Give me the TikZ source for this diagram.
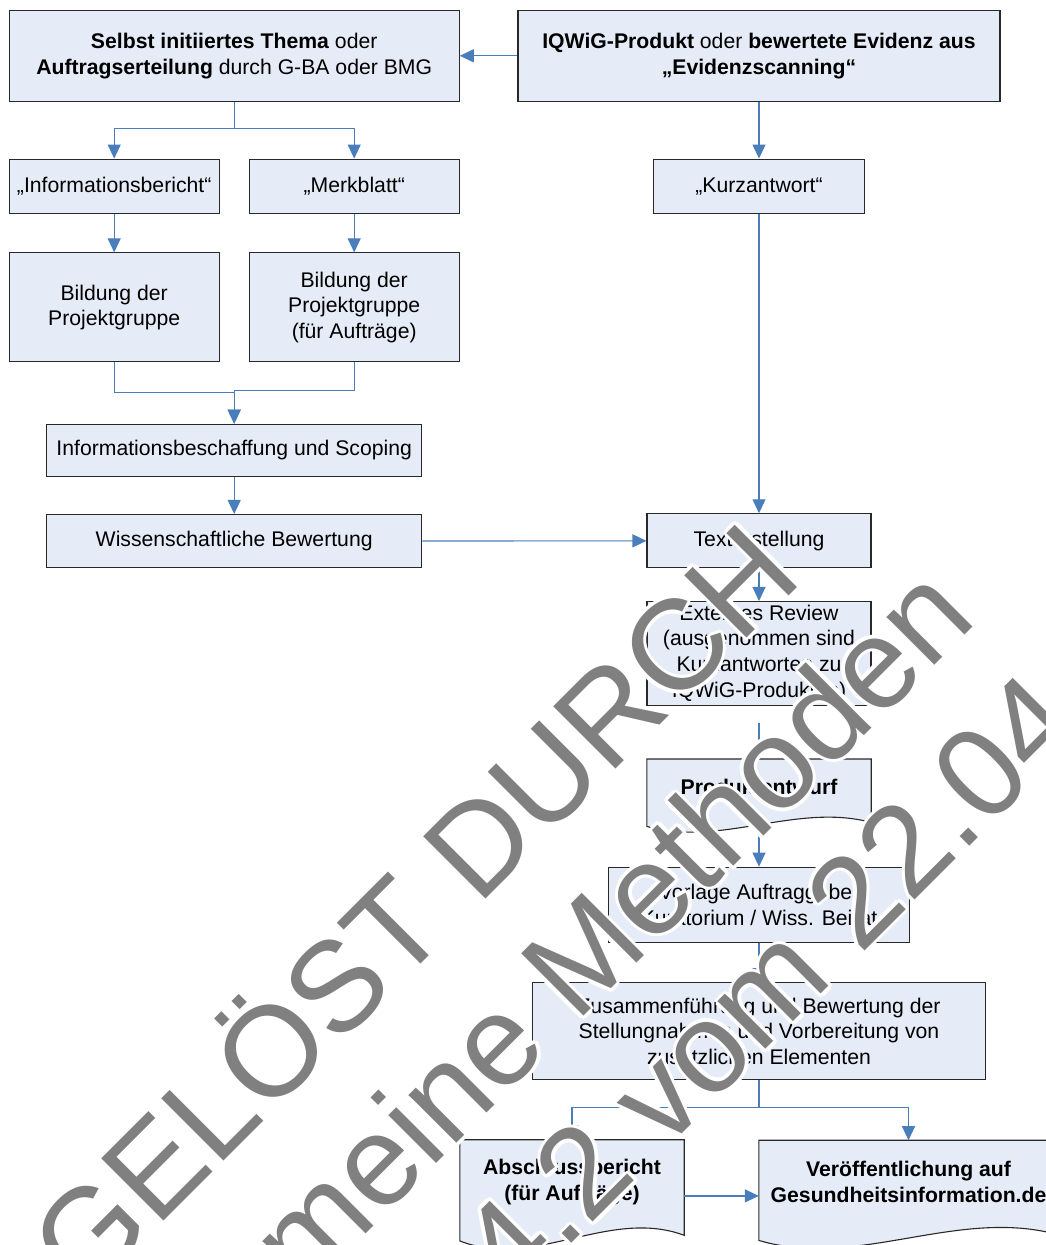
\documentclass[tikz,border=0pt]{standalone}
\usepackage{fontspec}
\setmainfont{Liberation Sans}
\usepackage{tikz}
\usetikzlibrary{positioning}
\usetikzlibrary{arrows.meta,calc,backgrounds}
\definecolor{boxfill}{RGB}{230,236,247}
\definecolor{boxline}{RGB}{40,40,40}
\definecolor{flowblue}{RGB}{74,126,187}
\definecolor{wmgray}{RGB}{128,128,128}
\tikzstyle{box} = [rectangle, draw=boxline, fill=boxfill, line width=1.1pt, text centered, align=center, font=\fontsize{21.2}{25.7}\selectfont]
\tikzstyle{docbox} = [rectangle, draw=none, fill=none, text centered, align=center, font=\fontsize{21.2}{25.7}\selectfont\bfseries]
\tikzstyle{flow} = [draw=flowblue, line width=1.2pt, -{Triangle[length=14pt,width=13pt]}]
\tikzstyle{wmark} = [anchor=base west, inner sep=0pt, rotate=45, text=wmgray, font=\fontsize{128}{150}\selectfont]
% document shape with wavy lower edge
\newcommand{\drawdoc}[2]{%
  \draw [draw=boxline, fill=boxfill, line width=1.1pt]
    (#1.north west) -- (#1.north east) -- ([yshift={-8*#2}]#1.south east)
    .. controls ($(#1.south east)!0.335!(#1.south west)+(0,{12*#2})$)
       and ($(#1.south east)!0.67!(#1.south west)+(0,{-33*#2})$)
    .. ([yshift={-12*#2}]#1.south west) -- cycle;}

\begin{document}
\begin{tikzpicture}[x=1pt, y=1pt]
	\useasboundingbox (0,0) rectangle (1046,-1245);
	\clip (0,0) rectangle (1046,-1245);
	% start nodes
	\node [box, minimum width=450pt, minimum height=91pt] (start) at (234.2,-55.8)
		{\textbf{Selbst initiiertes Thema} oder\\ \textbf{Auftragserteilung} durch G-BA oder BMG};
	\node [box, right of=start, node distance=524.8pt, minimum width=482pt, minimum height=91pt] (product)
		{\textbf{IQWiG-Produkt} oder \textbf{bewertete Evidenz aus}\\ \textbf{„Evidenzscanning“}};
	% left branch
	\node [box, below of=start, node distance=130.3pt, xshift=-120pt, minimum width=210pt, minimum height=54pt] (infobericht) {„Informationsbericht“};
	\node [box, right of=infobericht, node distance=240pt, minimum width=210pt, minimum height=54pt] (merkblatt) {„Merkblatt“};
	\node [box, below of=infobericht, node distance=121.3pt, minimum width=210pt, minimum height=109pt] (gruppeA) {Bildung der\\ Projektgruppe};
	\node [box, below of=merkblatt, node distance=121.3pt, minimum width=210pt, minimum height=109pt] (gruppeB) {Bildung der\\ Projektgruppe\\ (für Aufträge)};
	\node [box, below of=start, node distance=394.4pt, minimum width=375pt, minimum height=52pt] (scoping) {Informationsbeschaffung und Scoping};
	\node [box, below of=scoping, node distance=90.8pt, minimum width=375pt, minimum height=53pt] (bewertung) {Wissenschaftliche Bewertung};
	% right branch
	\node [box, below of=product, node distance=130.3pt, minimum width=211pt, minimum height=54pt] (kurz) {„Kurzantwort“};
	\node [box, below of=kurz, node distance=354.7pt, minimum width=224pt, minimum height=54pt] (texterst) {Texterstellung};
	\node [box, below of=texterst, node distance=112.5pt, minimum width=224pt, minimum height=103pt] (review)
		{Externes Review\\ (ausgenommen sind\\ Kurzantworten zu\\ IQWiG-Produkten)};
	\node [docbox, below of=review, node distance=133.4pt, minimum width=224pt, minimum height=55pt] (entwurf) {Produktentwurf};
	\node [box, below of=entwurf, node distance=118pt, minimum width=301pt, minimum height=75pt] (vorlage)
		{Vorlage Auftraggeber\\ Kuratorium / Wiss. Beirat};
	\node [box, below of=vorlage, node distance=126.5pt, minimum width=453pt, minimum height=97pt] (stellung)
		{Zusammenführung und Bewertung der\\ Stellungnahmen und Vorbereitung von\\ zusätzlichen Elementen};
	\node [docbox, below of=stellung, node distance=150.7pt, xshift=-187pt, minimum width=224pt, minimum height=84pt] (abschluss)
		{Abschlussbericht\\ (für Aufträge)};
	\node [docbox, right of=abschluss, node distance=336.5pt, minimum width=299pt, minimum height=83pt] (portal)
		{Veröffentlichung auf\\ Gesundheitsinformation.de};
	\begin{pgfonlayer}{background}
		\drawdoc{entwurf}{1}
		\drawdoc{abschluss}{1.4}
		\drawdoc{portal}{1.4}
	\end{pgfonlayer}

	% draw edges
	\path [flow] (product) -- (start);
	\path [flow] (start.south) -- ++(0,-27) -| (infobericht);
	\path [flow] (start.south) -- ++(0,-27) -| (merkblatt);
	\path [flow] (infobericht) -- (gruppeA);
	\path [flow] (merkblatt) -- (gruppeB);
	\path [flow] (gruppeA.south) -- ++(0,-30) -| (scoping);
	\path [flow] (gruppeB.south) -- ++(0,-28) -| (scoping);
	\path [flow] (scoping) -- (bewertung);
	\path [flow] (bewertung) -- (texterst);
	\path [flow] (product) -- (kurz);
	\path [flow] (kurz) -- (texterst);
	\path [flow] (texterst) -- (review);
	\path [flow] ([yshift=-17pt]review.south) -- (entwurf);
	\path [flow] ([yshift=-10.5pt]entwurf.south) -- (vorlage);
	\path [flow] (vorlage) -- (stellung);
	\path [flow] (stellung.south) -- ++(0,-27.5) -| (abschluss);
	\path [flow] (stellung.south) -- ++(0,-27.5) -| (portal);
	\path [flow] ([yshift=-14pt]abschluss.east) -- ([yshift=-14pt]portal.west);

	% watermark
	\coordinate (wm1) at (85.8,-1299.2);
	\coordinate (wm2) at (304.5,-1295.5);
	\coordinate (wm3) at (513.3,-1302.3);
	\foreach \wn/\wtext in {wm1/GELÖST DURCH, wm2/meine Methoden, wm3/4.2 vom 22.04} {
		\foreach \a in {0,45,...,315}
			\node [wmark, text=white, shift={(\a:3.5)}] (\wn-h\a) at (\wn) {\wtext};
		\node [wmark] (\wn-t) at (\wn) {\wtext};
	}
\end{tikzpicture}
\end{document}
